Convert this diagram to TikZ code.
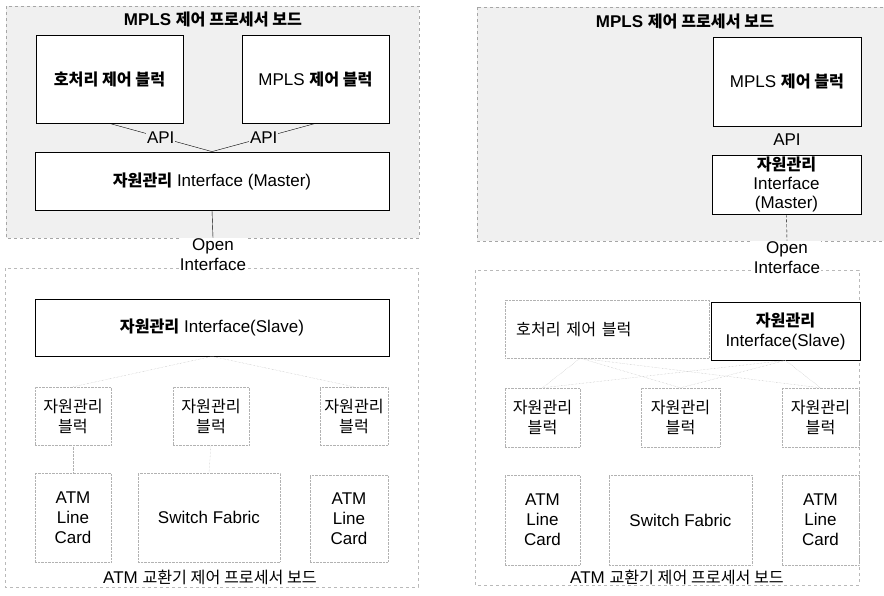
\documentclass[tikz,border=0pt]{standalone}
\usepackage{fontspec}
\setmainfont{Liberation Sans}
\newfontfamily\krfont[Scale=0.95]{Noto Sans CJK KR}
\newcommand{\kb}[1]{{\krfont\bfseries #1}}
\newcommand{\kn}[1]{{\krfont #1}}
\usetikzlibrary{arrows,positioning}
\tikzset{
  board/.style={draw=gray!70, dashed, fill=gray!12},
  lowboard/.style={draw=gray!55, dashed},
  blk/.style={draw, thick, fill=white, align=center, inner sep=0pt},
  faint/.style={draw=gray!60, densely dotted, align=center, inner sep=0pt},
  lbl/.style={align=center, inner sep=1pt},
  link/.style={gray!60, densely dotted},
}

\begin{document}
\begin{tikzpicture}[x=1pt, y=-1pt, font=\fontsize{17}{20}\selectfont]
	\useasboundingbox (0,0) rectangle (884,595);
	%\draw [help lines, step=50] (0,0) grid (884,595);

	% left: MPLS board
	\draw [board] (6,6) rectangle (419,238);
	\draw [lowboard] (5,268) rectangle (418,587);
	\node [lbl] (titA) at (213,19) {\bfseries MPLS \kb{제어 프로세서 보드}};
	\node [blk, minimum width=147, minimum height=88] (hoA) at (109.5,79) {\kb{호처리 제어 블럭}};
	\node [blk, minimum width=147, minimum height=88] (mplsA) at (315.5,79) {MPLS \kb{제어 블럭}};
	\node [blk, minimum width=354, minimum height=58] (masA) at (212,181) {\kb{자원관리} Interface (Master)};
	\draw (hoA.south) -- (masA.north) node [pos=0.5, lbl, fill=gray!12] {API};
	\draw (mplsA.south) -- (masA.north) node [pos=0.5, lbl, fill=gray!12] {API};
	\node [lbl, fill=white] (opA) at (213,255) {Open\\Interface};
	\draw (masA.south) -- (opA.north);

	% left: ATM board
	\node [blk, minimum width=354, minimum height=57] (slA) at (212,327.5) {\kb{자원관리} Interface(Slave)};
	\node [faint, minimum width=76, minimum height=58] (bA1) at (73,416) {\kn{자원관리}\\\kn{블럭}};
	\node [faint, minimum width=76, minimum height=58] (bA2) at (211,416) {\kn{자원관리}\\\kn{블럭}};
	\node [faint, minimum width=68, minimum height=58] (bA3) at (354,416) {\kn{자원관리}\\\kn{블럭}};
	\draw [link] (slA.south) -- (bA1.north);
	\draw [link] (slA.south) -- (bA3.north);
	\node [faint, minimum width=76, minimum height=89] (cA1) at (73,517.5) {ATM\\Line\\Card};
	\node [faint, minimum width=142, minimum height=89] (sfA) at (209,517.5) {Switch Fabric};
	\node [faint, minimum width=78, minimum height=87] (cA3) at (349,518.5) {ATM\\Line\\Card};
	\draw [link] (bA1.south) -- (cA1.north);
	\draw [link] (bA2.south) -- (sfA.north);
	\node [lbl] (atmA) at (210,577) {ATM \kn{교환기 제어 프로세서 보드}};

	% right: MPLS board
	\draw [board] (477,7) rectangle (890,241);
	\draw [lowboard] (475,270) rectangle (859,585);
	\node [lbl] (titB) at (685,21) {\bfseries MPLS \kb{제어 프로세서 보드}};
	\node [blk, minimum width=148, minimum height=89] (mplsB) at (787,81.5) {MPLS \kb{제어 블럭}};
	\node [lbl] (apiB) at (787,140) {API};
	\node [blk, minimum width=149, minimum height=59] (masB) at (786.5,184.5) {\kb{자원관리}\\[-1pt]Interface\\[-1pt](Master)};
	\node [lbl, fill=white] (opB) at (787,258) {Open\\Interface};
	\draw [densely dashed] (masB.south) -- (opB.north);

	% right: ATM board
	\node [faint, minimum width=204, minimum height=58, anchor=west, align=left, text width=182, inner xsep=11] (hoB) at (505,329) {\kn{호처리 제어 블럭}};
	\node [blk, minimum width=149, minimum height=58] (slB) at (785.5,331) {\kb{자원관리}\\Interface(Slave)};
	\node [faint, minimum width=75, minimum height=59] (bB1) at (542.5,417.5) {\kn{자원관리}\\\kn{블럭}};
	\node [faint, minimum width=79, minimum height=59] (bB2) at (680.5,417.5) {\kn{자원관리}\\\kn{블럭}};
	\node [faint, minimum width=77, minimum height=59] (bB3) at (820.5,417.5) {\kn{자원관리}\\\kn{블럭}};
	\foreach \b in {bB1,bB2,bB3} {
		\draw [link] ([xshift=-27]hoB.south) -- (\b.north);
		\draw [link] (slB.south) -- (\b.north);
	}
	\node [faint, minimum width=75, minimum height=90] (cB1) at (542.5,520) {ATM\\Line\\Card};
	\node [faint, minimum width=143, minimum height=90] (sfB) at (680.5,520) {Switch Fabric};
	\node [faint, minimum width=77, minimum height=90] (cB3) at (820.5,520) {ATM\\Line\\Card};
	\node [lbl] (atmB) at (677,577) {ATM \kn{교환기 제어 프로세서 보드}};
\end{tikzpicture}
\end{document}
